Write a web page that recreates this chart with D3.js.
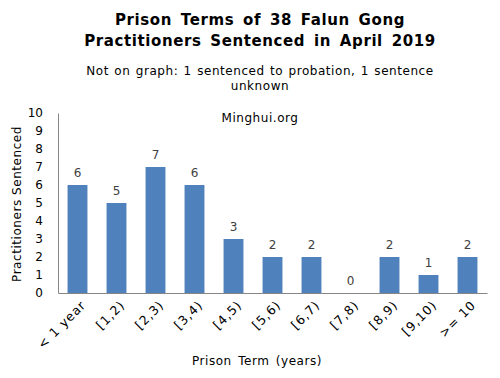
<!DOCTYPE html>
<html><head><meta charset="utf-8">
<script src="https://cdn.jsdelivr.net/npm/d3@7/dist/d3.min.js"></script>
<style>body{margin:0;background:#fff}svg{display:block}text{font-family:"DejaVu Sans",Verdana,sans-serif}</style>
</head><body><svg id="c" width="500" height="378"></svg>
<script>
const categories = ["< 1 year","[1,2)","[2,3)","[3,4)","[4,5)","[5,6)","[6,7)","[7,8)","[8,9)","[9,10)",">= 10"];
const values = [6,5,7,6,3,2,2,0,2,1,2];
const yTicks = [0,1,2,3,4,5,6,7,8,9,10];
const svg = d3.select("#c");
const m = {l:58, r:487, t:113, b:293};
const x = d3.scaleBand().domain(categories).range([m.l, m.r]).paddingInner(0.49).paddingOuter(0.245);
const y = d3.scaleLinear().domain([0,10]).range([m.b, m.t]);
const LS = 0.55;

svg.append("text").attr("x",260).attr("y",25).attr("text-anchor","middle").attr("font-weight","bold").attr("font-size",15).attr("letter-spacing",0.6).attr("word-spacing",3).text("Prison Terms of 38 Falun Gong");
svg.append("text").attr("x",260).attr("y",46).attr("text-anchor","middle").attr("font-weight","bold").attr("font-size",15).attr("letter-spacing",0.6).attr("word-spacing",3).text("Practitioners Sentenced in April 2019");
svg.append("text").attr("x",260).attr("y",75).attr("text-anchor","middle").attr("font-size",12).attr("letter-spacing",LS).attr("word-spacing",1).text("Not on graph: 1 sentenced to probation, 1 sentence");
svg.append("text").attr("x",260).attr("y",90).attr("text-anchor","middle").attr("font-size",12).attr("letter-spacing",LS).text("unknown");
svg.append("text").attr("x",260).attr("y",122).attr("text-anchor","middle").attr("font-size",12).attr("letter-spacing",LS).text("Minghui.org");

svg.selectAll("rect.bar").data(values).join("rect").attr("class","bar")
  .attr("x",(d,i)=>x(categories[i])).attr("width",x.bandwidth())
  .attr("y",d=>y(d)).attr("height",d=>y(0)-y(d)).attr("fill","#4F81BD");

svg.selectAll("text.val").data(values).join("text").attr("class","val")
  .attr("x",(d,i)=>x(categories[i])+x.bandwidth()/2).attr("y",d=>y(d)-8)
  .attr("text-anchor","middle").attr("font-size",12).attr("fill","#404040").text(d=>d);

const yAxis = svg.append("g").attr("transform",`translate(${m.l},0)`)
  .call(d3.axisLeft(y).tickValues(yTicks).tickSize(0).tickPadding(15));
yAxis.select(".domain").attr("stroke","#868686");
yAxis.selectAll("text").attr("font-size",12).attr("fill","#000").attr("font-family","DejaVu Sans");

const xAxis = svg.append("g").attr("transform",`translate(0,${m.b})`)
  .call(d3.axisBottom(x).tickSize(0).tickPadding(0));
xAxis.select(".domain").attr("stroke","#868686");
xAxis.selectAll("text").attr("font-size",12.5).attr("letter-spacing",0.9).attr("fill","#000").attr("font-family","DejaVu Sans")
  .attr("text-anchor","end").attr("dy",0).attr("transform","translate(9,13) rotate(-45)");

svg.append("text").attr("x",257).attr("y",365).attr("text-anchor","middle").attr("font-size",12).attr("letter-spacing",LS).attr("word-spacing",2).text("Prison Term (years)");
svg.append("text").attr("transform","translate(21,204) rotate(-90)").attr("text-anchor","middle").attr("font-size",12).attr("letter-spacing",LS).text("Practitioners Sentenced");
</script></body></html>
